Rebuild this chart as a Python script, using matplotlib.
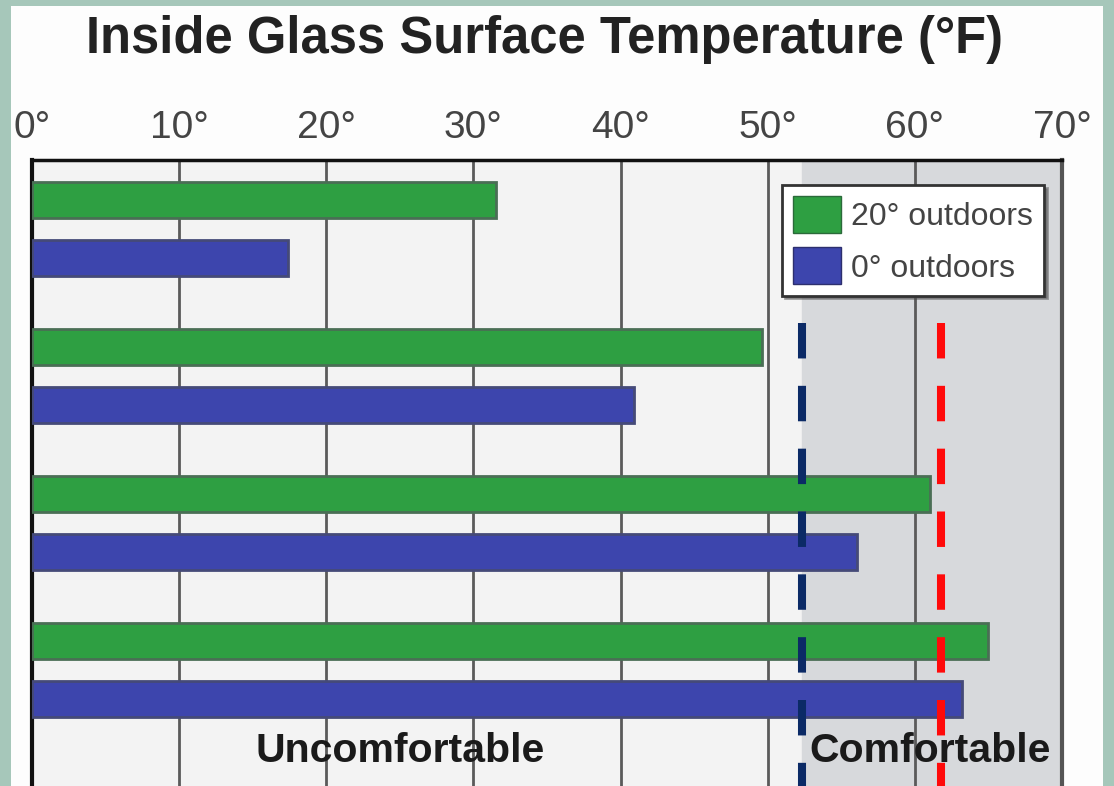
import matplotlib
matplotlib.use("Agg")
import matplotlib.pyplot as plt
from matplotlib.patches import Rectangle, Patch
import numpy as np

plt.rcParams["font.family"] = ["Liberation Sans", "DejaVu Sans"]

# valores (graus F)
temp_20_outdoors = [31.5, 49.6, 61.0, 65.0]
temp_0_outdoors = [17.4, 40.9, 56.1, 63.2]
limite_azul = 52.3
limite_vermelho = 61.8
ticks = [0, 10, 20, 30, 40, 50, 60, 70]
tick_labels = [f"{t}°" for t in ticks]
legend_labels = ["20° outdoors", "0° outdoors"]

cor_verde = "#2e9f42"
cor_azul = "#3d45ad"

fig = plt.figure(figsize=(11.14, 7.86), dpi=100)
fig.patch.set_facecolor("#a6c7ba")
painel = Rectangle((11/1114, 0), 1092/1114, 1 - 6/786,
                   transform=fig.transFigure, facecolor="#fdfdfd",
                   edgecolor="none", zorder=-10)
fig.patches.append(painel)

ax = fig.add_axes([32/1114, 0, 1030/1114, 1 - 160/786])
ax.set_zorder(1)
ax.set_facecolor("#f3f3f3")

y = np.arange(len(temp_20_outdoors))
desloc = 0.395
altura = 0.24

# zona confortavel
ax.axvspan(limite_azul, 70, color="#d7d9dc", zorder=0)

ax.barh(y, temp_20_outdoors, altura, color=cor_verde, edgecolor="#4a6e55",
        linewidth=2, zorder=3)
ax.barh(y + desloc, temp_0_outdoors, altura, color=cor_azul, edgecolor="#454a78",
        linewidth=2, zorder=3)

# linhas tracejadas dos limites
trans = ax.get_xaxis_transform()
ax.plot([limite_azul, limite_azul], [0.74, 0], transform=trans, color="#0b2a66",
        linewidth=5.8, linestyle=(0, (4.4, 3.4)), dash_capstyle="butt", zorder=4)
ax.plot([limite_vermelho, limite_vermelho], [0.74, 0], transform=trans, color="#ff0a0a",
        linewidth=5.8, linestyle=(0, (4.4, 3.4)), dash_capstyle="butt", zorder=4)

ax.set_xlim(0, 70)
ax.set_ylim(3.986, -0.272)
ax.set_yticks([])
ax.xaxis.tick_top()
ax.set_xticks(ticks)
ax.set_xticklabels(tick_labels, fontsize=28, color="#444444")
ax.tick_params(axis="x", length=0, pad=10)
ax.grid(axis="x", color="#5a5a5a", linewidth=2, zorder=1)
ax.set_axisbelow(True)

ax.spines["bottom"].set_visible(False)
ax.spines["left"].set_linewidth(3)
ax.spines["left"].set_color("#111111")
ax.spines["top"].set_linewidth(2.5)
ax.spines["top"].set_color("#111111")
ax.spines["right"].set_linewidth(3)
ax.spines["right"].set_color("#555555")

ax.text(25.0, 3.745, "Uncomfortable", fontsize=29.5, fontweight="bold",
        color="#1a1a1a", ha="center", va="center", zorder=5)
ax.text(61.0, 3.745, "Comfortable", fontsize=29.5, fontweight="bold",
        color="#1a1a1a", ha="center", va="center", zorder=5)

handles = [Patch(facecolor=cor_verde, edgecolor="#2b6a3a"),
           Patch(facecolor=cor_azul, edgecolor="#2d2f6e")]
leg = ax.legend(handles, legend_labels, loc="upper left",
                bbox_to_anchor=(782/1114, 1 - 185/786), bbox_transform=fig.transFigure,
                borderaxespad=0, fontsize=23, frameon=True, fancybox=False, shadow=True,
                edgecolor="#333333", facecolor="white", framealpha=1,
                handlelength=1.5, handleheight=1.4, handletextpad=0.3,
                labelspacing=0.45, borderpad=0.35, labelcolor="#444444")
leg.get_frame().set_linewidth(2)
leg.set_zorder(6)

fig.text(545/1114, 1 - 40/786, "Inside Glass Surface Temperature (°F)",
         fontsize=36.5, fontweight="bold", color="#222222", ha="center", va="center")

fig.savefig("out.png", dpi=100, facecolor=fig.get_facecolor())
